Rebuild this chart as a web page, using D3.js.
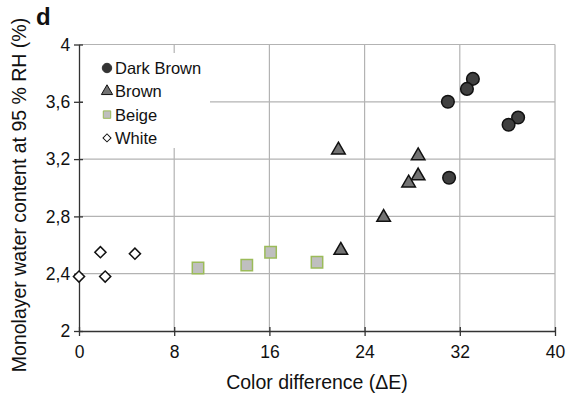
<!DOCTYPE html>
<html>
<head>
<meta charset="utf-8">
<script src="https://cdn.jsdelivr.net/npm/d3@7"></script>
<style>
  body { margin: 0; background: #fff; }
  text { font-family: "Liberation Sans", Arial, sans-serif; }
</style>
</head>
<body>
<svg width="567" height="396"></svg>
<script>
// values
var darkBrownX = [33.1, 32.6, 31.0, 36.9, 36.1, 31.1];
var darkBrownY = [3.76, 3.69, 3.60, 3.49, 3.44, 3.07];
var brownX = [21.8, 28.5, 28.5, 27.7, 25.6, 22.0];
var brownY = [3.27, 3.23, 3.09, 3.04, 2.80, 2.57];
var beigeX = [10.0, 14.1, 16.1, 20.0];
var beigeY = [2.44, 2.46, 2.55, 2.48];
var whiteX = [0, 1.8, 2.2, 4.7];
var whiteY = [2.38, 2.55, 2.38, 2.54];
var xTicks = [0, 8, 16, 24, 32, 40];
var yTicks = [2, 2.4, 2.8, 3.2, 3.6, 4];

var series = [
  {name: "Dark Brown", xs: darkBrownX, ys: darkBrownY, shape: d3.symbolCircle, fill: "#404040", stroke: "#111", size: 125, rot: 0},
  {name: "Brown", xs: brownX, ys: brownY, shape: d3.symbolTriangle, fill: "#737373", stroke: "#111", size: 80, rot: 0},
  {name: "Beige", xs: beigeX, ys: beigeY, shape: d3.symbolSquare, fill: "#bfbfbf", stroke: "#9bbb59", size: 130, rot: 0},
  {name: "White", xs: whiteX, ys: whiteY, shape: d3.symbolSquare, fill: "#fff", stroke: "#111", size: 62, rot: 45}
];

var svg = d3.select('svg');
var margin = {top: 44.5, right: 12, bottom: 65, left: 79};
var width = 555 - margin.left;
var height = 331 - margin.top;
var g = svg.append('g')
  .attr("transform", `translate(${margin.left},${margin.top})`);

var x = d3.scaleLinear().domain([0, 40]).range([0, width]);
var y = d3.scaleLinear().domain([2, 4]).range([height, 0]);
var fmt = (d) => String(d).replace(".", ",");

// grid
g.append("g").selectAll("line")
  .data(xTicks.slice(1))
  .enter().append("line")
    .attr("x1", (d) => x(d)).attr("x2", (d) => x(d))
    .attr("y1", 0).attr("y2", height)
    .attr("stroke", "#b3b3b3").attr("stroke-width", 1.2);
g.append("g").selectAll("line")
  .data(yTicks.slice(1))
  .enter().append("line")
    .attr("x1", 0).attr("x2", width)
    .attr("y1", (d) => y(d)).attr("y2", (d) => y(d))
    .attr("stroke", "#b3b3b3").attr("stroke-width", 1.2);

// axes
var xAxis = g.append("g")
  .attr("transform", "translate(0," + height + ")")
  .call(d3.axisBottom(x).tickValues(xTicks).tickSize(5).tickSizeOuter(0).tickFormat(fmt));
var yAxis = g.append("g")
  .call(d3.axisLeft(y).tickValues(yTicks).tickSize(5).tickSizeOuter(0).tickFormat(fmt));
[xAxis, yAxis].forEach((a) => {
  a.select(".domain").attr("stroke", "#333").attr("stroke-width", 1.3);
  a.selectAll(".tick line").attr("stroke", "#333").attr("stroke-width", 1.3);
  a.selectAll("text").attr("font-size", 17.5).attr("fill", "#111")
    .attr("font-family", "Liberation Sans, Arial, sans-serif");
});
xAxis.selectAll("text").attr("dy", "1.1em");
yAxis.selectAll("text").attr("dx", "-0.05em");
xAxis.selectAll(".tick line").attr("y1", -4);
yAxis.selectAll(".tick line").attr("x1", 4);

// points
series.forEach((s) => {
  g.append("g").selectAll("path")
    .data(s.xs.map((v, i) => ({x: v, y: s.ys[i]})))
    .enter().append("path")
      .attr("transform", (d) => `translate(${x(d.x)},${y(d.y) + (s.shape === d3.symbolTriangle ? 1 : 0)}) rotate(${s.rot})`)
      .attr("d", d3.symbol().type(s.shape).size(s.size))
      .attr("fill", s.fill)
      .attr("stroke", s.stroke)
      .attr("stroke-width", 1.5);
});

// legend
var legend = svg.append("g");
legend.append("rect")
  .attr("x", 83).attr("y", 53).attr("width", 127).attr("height", 95)
  .attr("fill", "#fff");
var items = legend.selectAll("g.item")
  .data(series)
  .enter().append("g")
    .attr("transform", (d, i) => `translate(107,${68 + i * 23.3})`);
items.append("path")
  .attr("transform", (d) => `rotate(${d.rot})`)
  .attr("d", (d) => d3.symbol().type(d.shape).size(d.shape === d3.symbolCircle ? 70 : d.rot ? 32 : 55)())
  .attr("fill", (d) => d.shape === d3.symbolCircle ? "#333" : d.fill)
  .attr("stroke", (d) => d.shape === d3.symbolCircle ? "#333" : d.stroke)
  .attr("stroke-width", 1);
items.append("text")
  .attr("x", 8).attr("dy", "0.36em")
  .attr("font-size", 16.5).attr("fill", "#111")
  .text((d) => d.name);

// titles
svg.append("text")
  .attr("x", 317).attr("y", 389)
  .attr("text-anchor", "middle")
  .attr("font-size", 19.5).attr("fill", "#111")
  .text("Color difference (ΔE)");
svg.append("text")
  .attr("transform", "translate(26,195) rotate(-90)")
  .attr("text-anchor", "middle")
  .attr("font-size", 19.5).attr("fill", "#111")
  .text("Monolayer water content at 95 % RH (%)");
svg.append("text")
  .attr("x", 36).attr("y", 25)
  .attr("font-size", 24).attr("font-weight", "bold").attr("fill", "#111")
  .text("d");
</script>
</body>
</html>
